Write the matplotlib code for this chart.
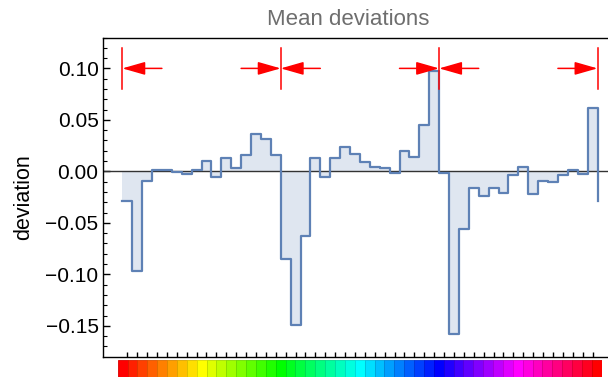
import numpy as np
import matplotlib
matplotlib.use('Agg')
import matplotlib.pyplot as plt
from matplotlib.colors import hsv_to_rgb

plt.rcParams['font.family'] = ['Liberation Sans', 'DejaVu Sans']

# mean deviation per bin (3 groups of 16 bins)
deviations = [-0.029, -0.0965, -0.009, 0.001, 0.001, -0.001, -0.003, 0.0015,
              0.0105, -0.005, 0.013, 0.003, 0.016, 0.036, 0.031, 0.0163,
              -0.0855, -0.149, -0.0627, 0.0134, -0.005, 0.0134, 0.0235, 0.0167,
              0.0095, 0.0044, 0.003, -0.0012, 0.020, 0.0144, 0.045, 0.0978,
              -0.002, -0.1575, -0.0563, -0.0164, -0.0238, -0.0164, -0.0212, -0.0034,
              0.0047, -0.0219, -0.0092, -0.0102, -0.0037, 0.0012, -0.0027, 0.0616]
group_edges = [0.5, 16.5, 32.5, 48.5]
arrow_len = 4
n_cells = 49

line_col = '#5E81B5'
fill_col = '#DFE6F0'

fig = plt.figure(figsize=(6.08, 3.77), dpi=100)
ax = fig.add_axes([102.7 / 608, 20.3 / 377, 1 - 102.7 / 608, 319.2 / 377])

n = len(deviations)
edges = np.arange(n + 1) + 0.5
vals = np.append(deviations, deviations[0])
ax.fill_between(edges, vals, 0, step='post', color=fill_col, lw=0, zorder=1)
ax.step(edges, vals, where='post', color=line_col, lw=1.6, zorder=3)
ax.axhline(0, color='#333333', lw=1.0, zorder=2)

# group boundaries with arrows
for i, e in enumerate(group_edges):
    ax.plot([e, e], [0.08, 0.12], color='red', lw=1.1, zorder=4)
    if i < len(group_edges) - 1:
        ax.annotate('', xy=(e, 0.1), xytext=(e + arrow_len, 0.1),
                    arrowprops=dict(arrowstyle='-|>,head_length=14,head_width=4',
                                    mutation_scale=1, color='red', lw=1.1,
                                    shrinkA=0, shrinkB=0), zorder=4)
    if i > 0:
        ax.annotate('', xy=(e, 0.1), xytext=(e - arrow_len, 0.1),
                    arrowprops=dict(arrowstyle='-|>,head_length=14,head_width=4',
                                    mutation_scale=1, color='red', lw=1.1,
                                    shrinkA=0, shrinkB=0), zorder=4)

ax.set_xlim(-1.48, 49.56)
ax.set_ylim(-0.180, 0.130)
ax.set_xticks(np.arange(1, n + 1))
ax.set_xticklabels([])
ax.set_yticks([-0.15, -0.10, -0.05, 0.0, 0.05, 0.10])
ax.set_yticklabels(['\u22120.15', '\u22120.10', '\u22120.05', '0.00', '0.05', '0.10'])
ax.set_yticks(np.arange(-0.17, 0.13, 0.01), minor=True)
ax.tick_params(axis='y', which='major', direction='in', length=5, width=1, labelsize=15, pad=3)
ax.tick_params(axis='y', which='minor', direction='in', length=3, width=0.8)
ax.tick_params(axis='x', which='major', direction='in', length=3.5, width=1)
ax.spines['right'].set_visible(False)
for s in ['left', 'bottom', 'top']:
    ax.spines[s].set_linewidth(1.0)
ax.set_ylabel('deviation', fontsize=15.5, labelpad=8)
fig.text(0.572, 0.947, 'Mean deviations', fontsize=16, color='#6E6E6E', ha='center', va='center')

# hue strip
cax = fig.add_axes([117.7 / 608, -2 / 377, 484 / 608, 19 / 377])
for k in range(n_cells):
    c = hsv_to_rgb([k / (n_cells - 1) % 1.0, 1, 1])
    cax.bar(k + 0.5, 1, width=1, color=c, edgecolor=c * 0.85, lw=0.6)
cax.set_xlim(0, n_cells)
cax.set_ylim(0, 1)
cax.axis('off')

fig.savefig('out.png', dpi=100)
